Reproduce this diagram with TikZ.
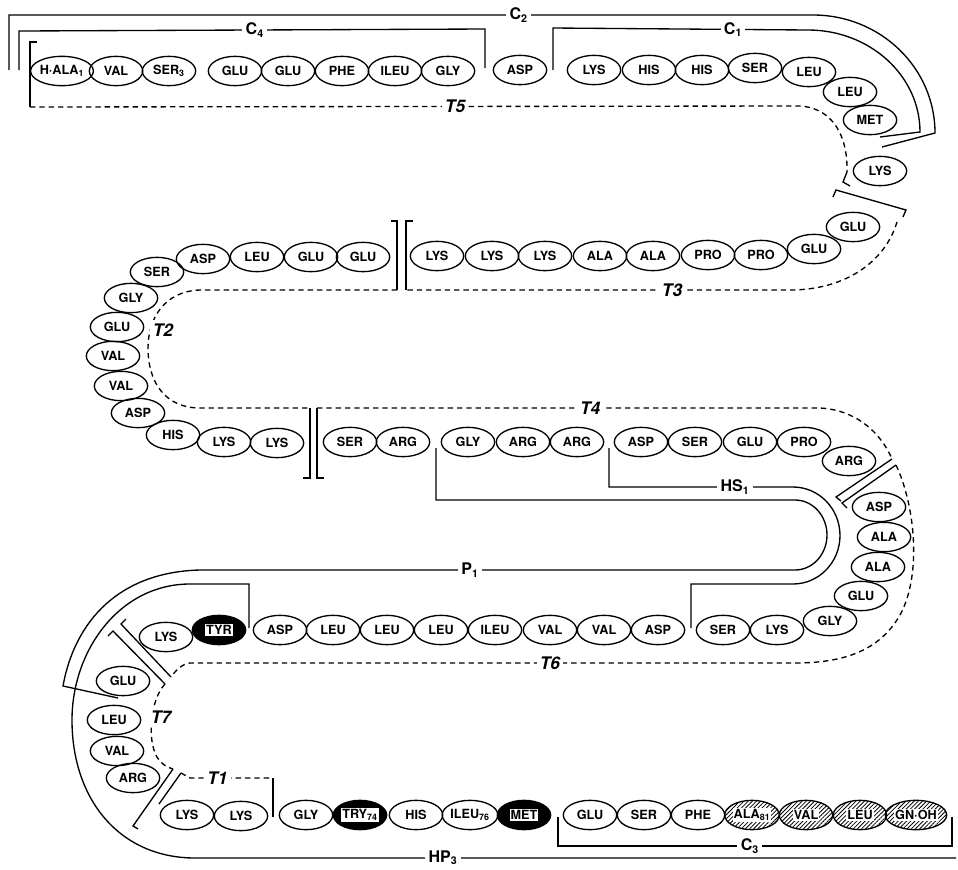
\documentclass[tikz,border=0pt]{standalone}
\usepackage{fontspec}
\setsansfont{TeX Gyre Heros}
\usetikzlibrary{shapes.geometric,patterns.meta}
\tikzset{
 res/.style={ellipse, draw, line width=1pt,
        minimum width=40pt, minimum height=22pt, inner sep=0pt,
        font=\fontsize{9.5}{9.5}\selectfont\sffamily\bfseries},
 res dark/.style={res, fill=black},
 res hatch/.style={res, pattern={Lines[angle=45, distance=2.2pt, line width=0.6pt]}},
 seg/.style={line width=1pt},
 tryp/.style={seg, dash pattern=on 4pt off 3pt},
 seglabel/.style={fill=white, inner sep=2.5pt,
        font=\fontsize{12}{12}\selectfont\sffamily\bfseries},
 tlabel/.style={fill=white, inner sep=2.5pt,
        font=\fontsize{13}{13}\selectfont\sffamily\bfseries\itshape},
}
\newcommand{\wbox}[1]{{\fboxsep=0.7pt\colorbox{white}{#1}}}

\begin{document}
\begin{tikzpicture}[x=0.75pt, y=-0.75pt]
\useasboundingbox (0,0) rectangle (958,869);
% the chain, residue 1 to the C-terminal end (kind: 0 plain, 1 dark, 2 hatched)
\foreach \l/\x/\y/\kind [count=\i] in {%
 {H\textperiodcentered ALA\textsubscript{1}}/62/71/0, VAL/116/71/0,
 {SER\textsubscript{3}}/169/71/0, GLU/235/71/0, GLU/288/71/0, PHE/342/71/0,
 ILEU/395/71/0, GLY/448/71/0, ASP/520/70/0, LYS/594/70/0, HIS/649/70/0,
 HIS/702/70/0, SER/755/68/0, LEU/809/72/0, LEU/850/92/0, MET/870/120/0,
 LYS/880/171/0, GLU/853/227/0, GLU/814/249/0, PRO/761/255/0, PRO/708/255/0,
 ALA/653/256/0, ALA/600/256/0, LYS/545/256/0, LYS/492/256/0, LYS/437/256/0,
 GLU/363/257/0, GLU/311/257/0, LEU/257/257/0, ASP/203/259/0, SER/157/272/0,
 GLY/131/298/0, GLU/117/327/0, VAL/113/356/0, VAL/121/386/0, ASP/138/413/0,
 HIS/173/435/0, LYS/224/442/0, LYS/277/443/0, SER/350/442/0, ARG/403/442/0,
 GLY/468/442/0, ARG/523/442/0, ARG/577/442/0, ASP/641/442/0, SER/695/442/0,
 GLU/750/442/0, PRO/804/442/0, ARG/849/461/0, ASP/879/507/0, ALA/884/537/0,
 ALA/878/567/0, GLU/861/596/0, GLY/830/621/0, LYS/777/630/0, SER/723/630/0,
 ASP/658/630/0, VAL/604/630/0, VAL/550/630/0, ILEU/495/630/0, LEU/441/630/0,
 LEU/387/630/0, LEU/333/630/0, ASP/280/630/0, TYR/219/630/1, LYS/166/637/0,
 GLU/123/681/0, LEU/114/720/0, VAL/117/751/0, ARG/133/778/0, LYS/187/815/0,
 LYS/241/816/0, GLY/306/815/0, {TRY\textsubscript{74}}/360/815/1, HIS/416/815/0,
 {ILEU\textsubscript{76}}/470/815/0, MET/524/815/1, GLU/590/815/0, SER/644/815/0,
 PHE/698/815/0, {ALA\textsubscript{81}}/752/815/2, VAL/806/815/2, LEU/860/815/2,
 {GN\textperiodcentered OH}/916/815/2%
}{
 \ifcase\kind
  \node[res] (r\i) at (\x,\y) {\l};
 \or
  \node[res dark] (r\i) at (\x,\y) {\wbox{\l}};
 \or
  \node[res hatch] (r\i) at (\x,\y) {\wbox{\l}};
 \fi
}
% chymotryptic and peptic pieces
\draw[seg] (9,70) -- (9,15) -- node[seglabel, pos=0.634] {C\textsubscript{2}} (813,15)
 arc[start angle=-90, end angle=0, x radius=122, y radius=118] -- (882,147);
\draw[seg] (19,70) -- (19,31) -- node[seglabel, pos=0.506] {C\textsubscript{4}} (485,29) -- (485,68);
\draw[seg] (553,70) -- (553,28) -- node[seglabel, pos=0.706] {C\textsubscript{1}} (808,30)
 arc[start angle=-90, end angle=0, x radius=112, y radius=102] -- (880,137);
\draw[seg] (436,448) -- (436,500) -- (795,500)
 arc[start angle=-90, end angle=90, x radius=32, y radius=35]
 -- node[seglabel, pos=0.546] {P\textsubscript{1}} (200,570)
 .. controls (120,572) and (75,620) .. (63,686) -- (118,698);
\draw[seg] (609,448) -- (609,487) -- node[seglabel, pos=0.685] {HS\textsubscript{1}} (793,487)
 arc[start angle=-90, end angle=90, x radius=47, y radius=48.5] -- (691,584) -- (691,628);
\draw[seg] (249,628) -- (249,584) -- (190,584)
 .. controls (120,584) and (72,650) .. (72,720)
 .. controls (72,800) and (120,858) .. (195,858)
 -- node[seglabel, pos=0.326] {HP\textsubscript{3}} (956,858);
\draw[seg] (558,817) -- (558,846) -- node[seglabel, pos=0.487] {C\textsubscript{3}} (952,846) -- (952,817);
% tryptic pieces
\draw[seg] (37,42) -- (30,42) -- (30,107);
\draw[tryp] (30,107) -- node[tlabel, pos=0.552] {T5} (800,106)
 .. controls (832,108) and (848,135) .. (847,172);
\draw[seg] (847,172) -- (843,182) -- (850,186);
\draw[seg] (833,197) -- (836,190) -- (906,210) -- (903,217);
\draw[tryp] (897,222) .. controls (885,262) and (845,290) .. (790,290)
 -- node[tlabel, pos=0.307] {T3} (406,290);
\draw[seg] (406,290) -- (406,221) -- (413,221);
\draw[seg] (391,221) -- (397,221) -- (397,290);
\draw[tryp] (397,290) -- (200,290) .. controls (165,291) and (148,318) .. (148,348)
 .. controls (148,382) and (165,408) .. (200,408) -- (310,408);
\node[tlabel] (t2) at (163,330) {T2};
\draw[seg] (310,408) -- (310,478) -- (303,478);
\draw[seg] (324,478) -- (317,478) -- (317,408);
\draw[tryp] (317,408) -- node[tlabel, pos=0.543] {T4} (820,408)
 .. controls (858,410) and (882,435) .. (892,459);
\draw[seg] (892,459) -- (836,497) -- (841,501);
\draw[seg] (847,508) -- (842,503) -- (896,465);
\draw[tryp] (896,465) .. controls (915,505) and (922,575) .. (900,615)
 .. controls (880,650) and (845,663) .. (795,663)
 -- node[tlabel, pos=0.405] {T6} (190,663) .. controls (182,664) and (176,670) .. (171,677);
\draw[seg] (171,677) -- (121,624) -- (126,619);
\draw[seg] (108,636) -- (113,631) -- (165,684);
\draw[tryp] (165,684) .. controls (150,700) and (147,740) .. (157,757)
 .. controls (162,765) and (167,767) .. (173,769);
\node[tlabel] (t7) at (161,717) {T7};
\draw[seg] (173,769) -- (133,826) -- (138,829);
\draw[seg] (159,804) -- (181,773);
\draw[tryp] (181,773) -- (190,778) -- node[tlabel, pos=0.33] {T1} (273,778);
\draw[seg] (273,778) -- (273,817);
\end{tikzpicture}
\end{document}
